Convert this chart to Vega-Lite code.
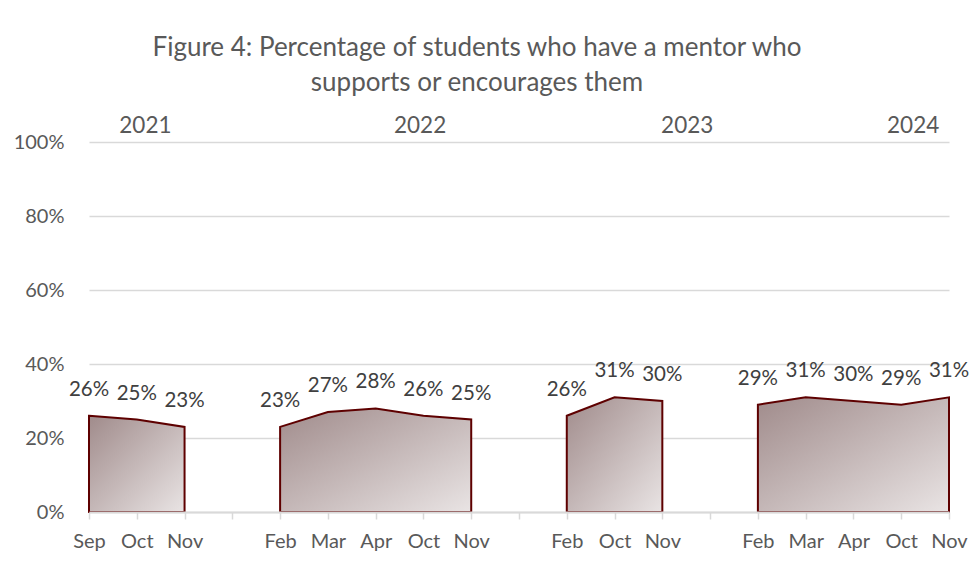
{
  "$schema": "https://vega.github.io/schema/vega-lite/v6.json",
  "width": 860,
  "height": 370,
  "autosize": "none",
  "padding": {"left": 89, "top": 142, "right": 23, "bottom": 65},
  "background": "white",
  "config": {"font": "Lato", "view": {"stroke": null}},
  "title": {
    "text": ["Figure 4: Percentage of students who have a mentor who", "supports or encourages them"],
    "fontSize": 26,
    "font": "Lato",
    "fontWeight": "normal",
    "color": "#595959",
    "anchor": "middle",
    "dx": -42,
    "offset": 19,
    "lineHeight": 35
  },
  "datasets": {
    "survey": [
      {"idx": 0, "month": "Sep", "year": "2021", "value": 0.26},
      {"idx": 1, "month": "Oct", "year": "2021", "value": 0.25},
      {"idx": 2, "month": "Nov", "year": "2021", "value": 0.23},
      {"idx": 4, "month": "Feb", "year": "2022", "value": 0.23},
      {"idx": 5, "month": "Mar", "year": "2022", "value": 0.27},
      {"idx": 6, "month": "Apr", "year": "2022", "value": 0.28},
      {"idx": 7, "month": "Oct", "year": "2022", "value": 0.26},
      {"idx": 8, "month": "Nov", "year": "2022", "value": 0.25},
      {"idx": 10, "month": "Feb", "year": "2023", "value": 0.26},
      {"idx": 11, "month": "Oct", "year": "2023", "value": 0.31},
      {"idx": 12, "month": "Nov", "year": "2023", "value": 0.30},
      {"idx": 14, "month": "Feb", "year": "2024", "value": 0.29},
      {"idx": 15, "month": "Mar", "year": "2024", "value": 0.31},
      {"idx": 16, "month": "Apr", "year": "2024", "value": 0.30},
      {"idx": 17, "month": "Oct", "year": "2024", "value": 0.29},
      {"idx": 18, "month": "Nov", "year": "2024", "value": 0.31}
    ],
    "years": [
      {"pos": 1.18, "label": "2021"},
      {"pos": 6.93, "label": "2022"},
      {"pos": 12.52, "label": "2023"},
      {"pos": 17.25, "label": "2024"}
    ]
  },
  "layer": [
    {
      "data": {"name": "survey"},
      "mark": {
        "type": "area",
        "fill": {
          "gradient": "linear",
          "x1": 0, "y1": 0, "x2": 1, "y2": 1,
          "stops": [
            {"offset": 0, "color": "#a08b8b"},
            {"offset": 1, "color": "#e9e4e4"}
          ]
        },
        "stroke": "#5e0000",
        "strokeWidth": 2,
        "strokeJoin": "miter"
      },
      "encoding": {
        "x": {
          "field": "idx",
          "type": "quantitative",
          "scale": {"domain": [0, 18], "nice": false, "zero": false},
          "axis": {
            "values": [0,1,2,3,4,5,6,7,8,9,10,11,12,13,14,15,16,17,18],
            "labelExpr": "['Sep','Oct','Nov','','Feb','Mar','Apr','Oct','Nov','','Feb','Oct','Nov','','Feb','Mar','Apr','Oct','Nov'][datum.value]",
            "grid": false,
            "domainColor": "#d9d9d9",
            "domainWidth": 2,
            "tickColor": "#d9d9d9",
            "tickWidth": 1.5,
            "tickSize": 7,
            "labelFontSize": 20,
            "labelFont": "Lato",
            "labelColor": "#595959",
            "labelPadding": 12,
            "labelFlush": false,
            "labelOverlap": false,
            "labelBound": false,
            "title": null,
            "zindex": 1
          }
        },
        "y": {
          "field": "value",
          "type": "quantitative",
          "stack": null,
          "scale": {"domain": [0, 1], "nice": false},
          "axis": {
            "values": [0, 0.2, 0.4, 0.6, 0.8, 1],
            "format": ".0%",
            "domain": false,
            "ticks": false,
            "gridColor": "#d9d9d9",
            "gridWidth": 1.5,
            "labelFontSize": 20,
            "labelFont": "Lato",
            "labelColor": "#595959",
            "labelPadding": 25,
            "title": null
          }
        },
        "detail": {"field": "year", "type": "nominal"}
      }
    },
    {
      "data": {"name": "survey"},
      "mark": {"type": "text", "fontSize": 20.5, "font": "Lato", "color": "#404040", "baseline": "middle", "dy": -26},
      "encoding": {
        "x": {"field": "idx", "type": "quantitative"},
        "y": {"field": "value", "type": "quantitative"},
        "text": {"field": "value", "type": "quantitative", "format": ".0%"}
      }
    },
    {
      "data": {"name": "years"},
      "mark": {"type": "text", "fontSize": 22.5, "font": "Lato", "color": "#595959", "baseline": "middle", "dy": -16},
      "encoding": {
        "x": {"field": "pos", "type": "quantitative"},
        "y": {"datum": 1},
        "text": {"field": "label"}
      }
    }
  ]
}
